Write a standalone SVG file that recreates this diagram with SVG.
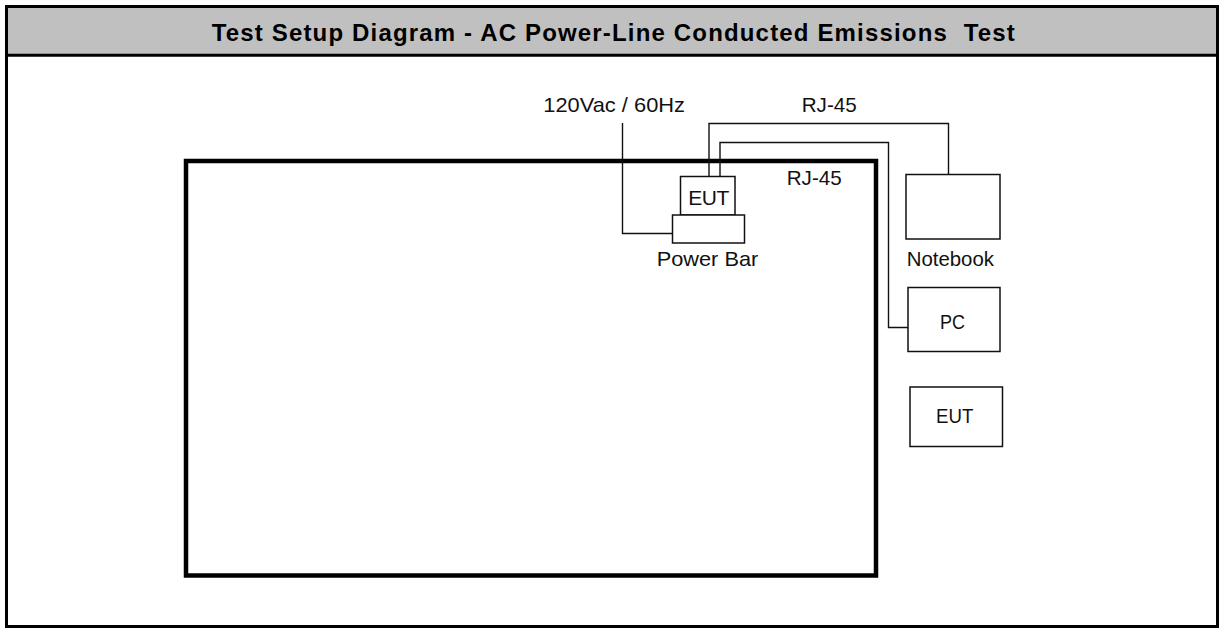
<svg xmlns="http://www.w3.org/2000/svg" width="1219" height="628" viewBox="0 0 1219 628">
<style>
.lbl{font-family:"Liberation Sans",Arial,sans-serif;font-size:21px;fill:#111;}
.ttl{font-family:"Liberation Sans",Arial,sans-serif;font-size:24px;font-weight:bold;fill:#000;}
.box{fill:#fff;stroke:#111;stroke-width:1.5;}
.wire{fill:none;stroke:#111;stroke-width:1.4;}
</style>
<rect x="0" y="0" width="1219" height="628" fill="#fff"/>
<g id="frame">
<rect x="6.5" y="6.5" width="1211" height="48.5" fill="#c0c0c0"/>
<rect x="6.5" y="6.5" width="1211" height="620" fill="none" stroke="#000" stroke-width="3"/>
<line x1="6.5" y1="55.3" x2="1217.5" y2="55.3" stroke="#000" stroke-width="3"/>
<text class="ttl" x="211.7" y="40.7" textLength="803" lengthAdjust="spacing" xml:space="preserve">Test Setup Diagram - AC Power-Line Conducted Emissions  Test</text>
</g>
<g id="table">
<rect x="186" y="161" width="690" height="414.5" fill="none" stroke="#000" stroke-width="4.5"/>
</g>
<g id="connectors">
<path class="wire" d="M622.5,123 V233.5 H672.5"/>
<path class="wire" d="M709,176.5 V123.5 H948.5 V174.5"/>
<path class="wire" d="M720,176.5 V142.5 H888.5 V327.5 H908"/>
<text class="lbl" x="543.3" y="112.3" textLength="141.7" lengthAdjust="spacingAndGlyphs">120Vac / 60Hz</text>
<text class="lbl" x="801.7" y="112" textLength="55" lengthAdjust="spacingAndGlyphs">RJ-45</text>
<text class="lbl" x="786.7" y="185" textLength="55" lengthAdjust="spacingAndGlyphs">RJ-45</text>
</g>
<g id="eut-small">
<rect class="box" x="680.5" y="176.5" width="54.5" height="38.5"/>
<text class="lbl" x="688.3" y="205" textLength="41" lengthAdjust="spacing">EUT</text>
</g>
<g id="power-bar">
<rect class="box" x="672.5" y="215" width="72" height="28"/>
<text class="lbl" x="656.7" y="266" textLength="101.6" lengthAdjust="spacingAndGlyphs">Power Bar</text>
</g>
<g id="notebook">
<rect class="box" x="906" y="174.5" width="94" height="64.5"/>
<text class="lbl" x="906.7" y="266" textLength="87.3" lengthAdjust="spacingAndGlyphs">Notebook</text>
</g>
<g id="pc">
<rect class="box" x="908" y="287.5" width="92" height="64"/>
<text class="lbl" x="940" y="329.3" textLength="25" lengthAdjust="spacingAndGlyphs">PC</text>
</g>
<g id="eut">
<rect class="box" x="910" y="387" width="92.5" height="59.5"/>
<text class="lbl" x="936" y="423.3" textLength="37.3" lengthAdjust="spacingAndGlyphs">EUT</text>
</g>
</svg>
